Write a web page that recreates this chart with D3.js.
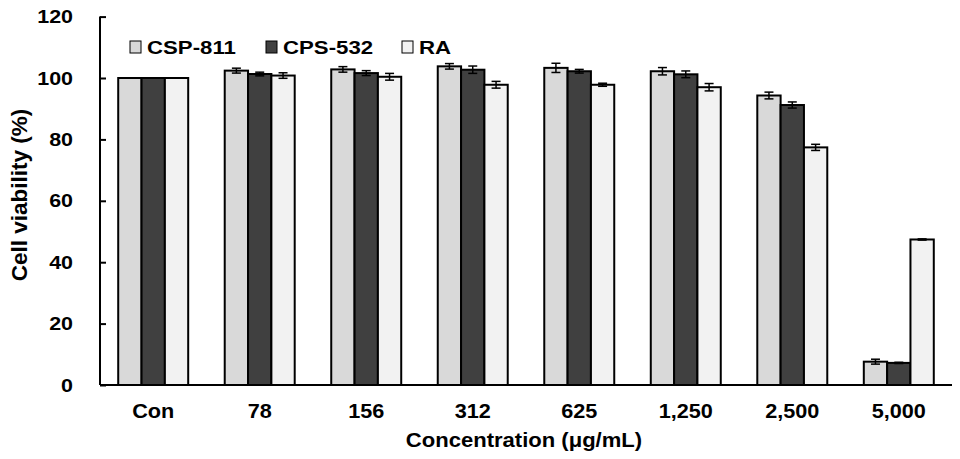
<!DOCTYPE html>
<html>
<head>
<meta charset="utf-8">
<script src="https://cdn.jsdelivr.net/npm/d3@7"></script>
<style>
  html, body { margin: 0; padding: 0; background: #fff; }
  svg { display: block; font-family: "Liberation Sans", Arial, sans-serif; font-weight: bold; }
</style>
</head>
<body>
<svg id="chart" width="960" height="459"></svg>
<script>
const categories = ["Con", "78", "156", "312", "625", "1,250", "2,500", "5,000"];
const seriesNames = ["CSP-811", "CPS-532", "RA"];
const csp811 = [100, 102.4, 102.8, 103.8, 103.3, 102.2, 94.3, 7.6];
const csp811Err = [0, 0.8, 0.9, 0.9, 1.5, 1.2, 1.1, 0.8];
const cps532 = [100, 101.3, 101.6, 102.7, 102.2, 101.2, 91.2, 7.2];
const cps532Err = [0, 0.6, 0.8, 1.2, 0.6, 1.1, 1.0, 0.2];
const ra = [100, 100.8, 100.4, 97.8, 97.8, 97.0, 77.4, 47.4];
const raErr = [0, 0.9, 1.1, 1.1, 0.5, 1.2, 1.0, 0.2];
const yTicks = [0, 20, 40, 60, 80, 100, 120];
const colors = ["#d9d9d9", "#404040", "#f2f2f2"];

const values = [csp811, cps532, ra];
const errors = [csp811Err, cps532Err, raErr];
const data = categories.map((c, i) => ({
  cat: c,
  vals: seriesNames.map((s, j) => ({ series: s, j, v: values[j][i], e: errors[j][i] }))
}));

function stretch(sel, f) {
  sel.each(function () {
    const L = this.getComputedTextLength();
    this.setAttribute("textLength", L * f);
    this.setAttribute("lengthAdjust", "spacingAndGlyphs");
  });
}

const svg = d3.select("#chart");
const x0 = 100, x1 = 952, yTop = 16.6, yBot = 385;

const x = d3.scaleBand().domain(categories).range([x0, x1]).paddingInner(0.343).paddingOuter(0.171);
const xs = d3.scaleBand().domain(seriesNames).range([0, x.bandwidth()]);
const y = d3.scaleLinear().domain([0, 120]).range([yBot, yTop]);

// bars
const g = svg.append("g");
const groups = g.selectAll("g.grp").data(data).join("g")
  .attr("transform", d => `translate(${x(d.cat)},0)`);
groups.selectAll("rect").data(d => d.vals).join("rect")
  .attr("x", d => xs(d.series))
  .attr("y", d => y(d.v))
  .attr("width", xs.bandwidth())
  .attr("height", d => y(0) - y(d.v))
  .attr("fill", d => colors[d.j])
  .attr("stroke", "#000")
  .attr("stroke-width", 2);

// error bars
const eb = groups.selectAll("g.err").data(d => d.vals.filter(v => v.e > 0)).join("g")
  .attr("stroke", "#000").attr("stroke-width", 1.5);
const cx = d => xs(d.series) + xs.bandwidth() / 2;
eb.append("line").attr("x1", cx).attr("x2", cx).attr("y1", d => y(d.v + d.e)).attr("y2", d => y(d.v - d.e));
eb.append("line").attr("x1", d => cx(d) - 4.5).attr("x2", d => cx(d) + 4.5).attr("y1", d => y(d.v + d.e)).attr("y2", d => y(d.v + d.e));
eb.append("line").attr("x1", d => cx(d) - 4.5).attr("x2", d => cx(d) + 4.5).attr("y1", d => y(d.v - d.e)).attr("y2", d => y(d.v - d.e));

// y axis
const yAxis = d3.axisLeft(y).tickValues(yTicks).tickSize(-6).tickPadding(27);
const ya = svg.append("g").attr("transform", `translate(${x0},0)`).call(yAxis);
ya.select(".domain").attr("stroke", "#000").attr("stroke-width", 2).attr("d", `M0,${yTop}V${yBot}`);
ya.selectAll(".tick line").attr("stroke", "#000").attr("stroke-width", 2);
ya.selectAll(".tick text").attr("font-size", 19).attr("font-weight", "bold").attr("fill", "#000")
  .attr("font-family", "Liberation Sans, Arial, sans-serif");
stretch(ya.selectAll(".tick text"), 1.13);

// x axis
const xAxis = d3.axisBottom(x).tickSize(0).tickPadding(19);
const xa = svg.append("g").attr("transform", `translate(0,${yBot})`).call(xAxis);
xa.select(".domain").attr("stroke", "#000").attr("stroke-width", 2).attr("d", `M${x0},0H${x1}`);
xa.selectAll(".tick text").attr("font-size", 19.5).attr("font-weight", "bold").attr("fill", "#000")
  .attr("font-family", "Liberation Sans, Arial, sans-serif");
stretch(xa.selectAll(".tick text"), 1.11);

// axis titles
const xt = svg.append("text").attr("x", 524).attr("y", 447).attr("text-anchor", "middle")
  .attr("font-size", 19.5).text("Concentration (μg/mL)");
stretch(xt, 1.13);
svg.append("text").attr("transform", "translate(27,195) rotate(-90)").attr("text-anchor", "middle")
  .attr("font-size", 22.5).text("Cell viability (%)");

// legend
const legX = [130, 266, 402];
const leg = svg.append("g").selectAll("g").data(seriesNames).join("g")
  .attr("transform", (d, i) => `translate(${legX[i]},41)`);
leg.append("rect").attr("width", 11).attr("height", 12).attr("fill", (d, i) => colors[i])
  .attr("stroke", "#000").attr("stroke-width", 1);
const lt = leg.append("text").attr("x", 17).attr("y", 12.5).attr("font-size", 18.5).text(d => d);
stretch(lt, 1.2);
</script>
</body>
</html>
